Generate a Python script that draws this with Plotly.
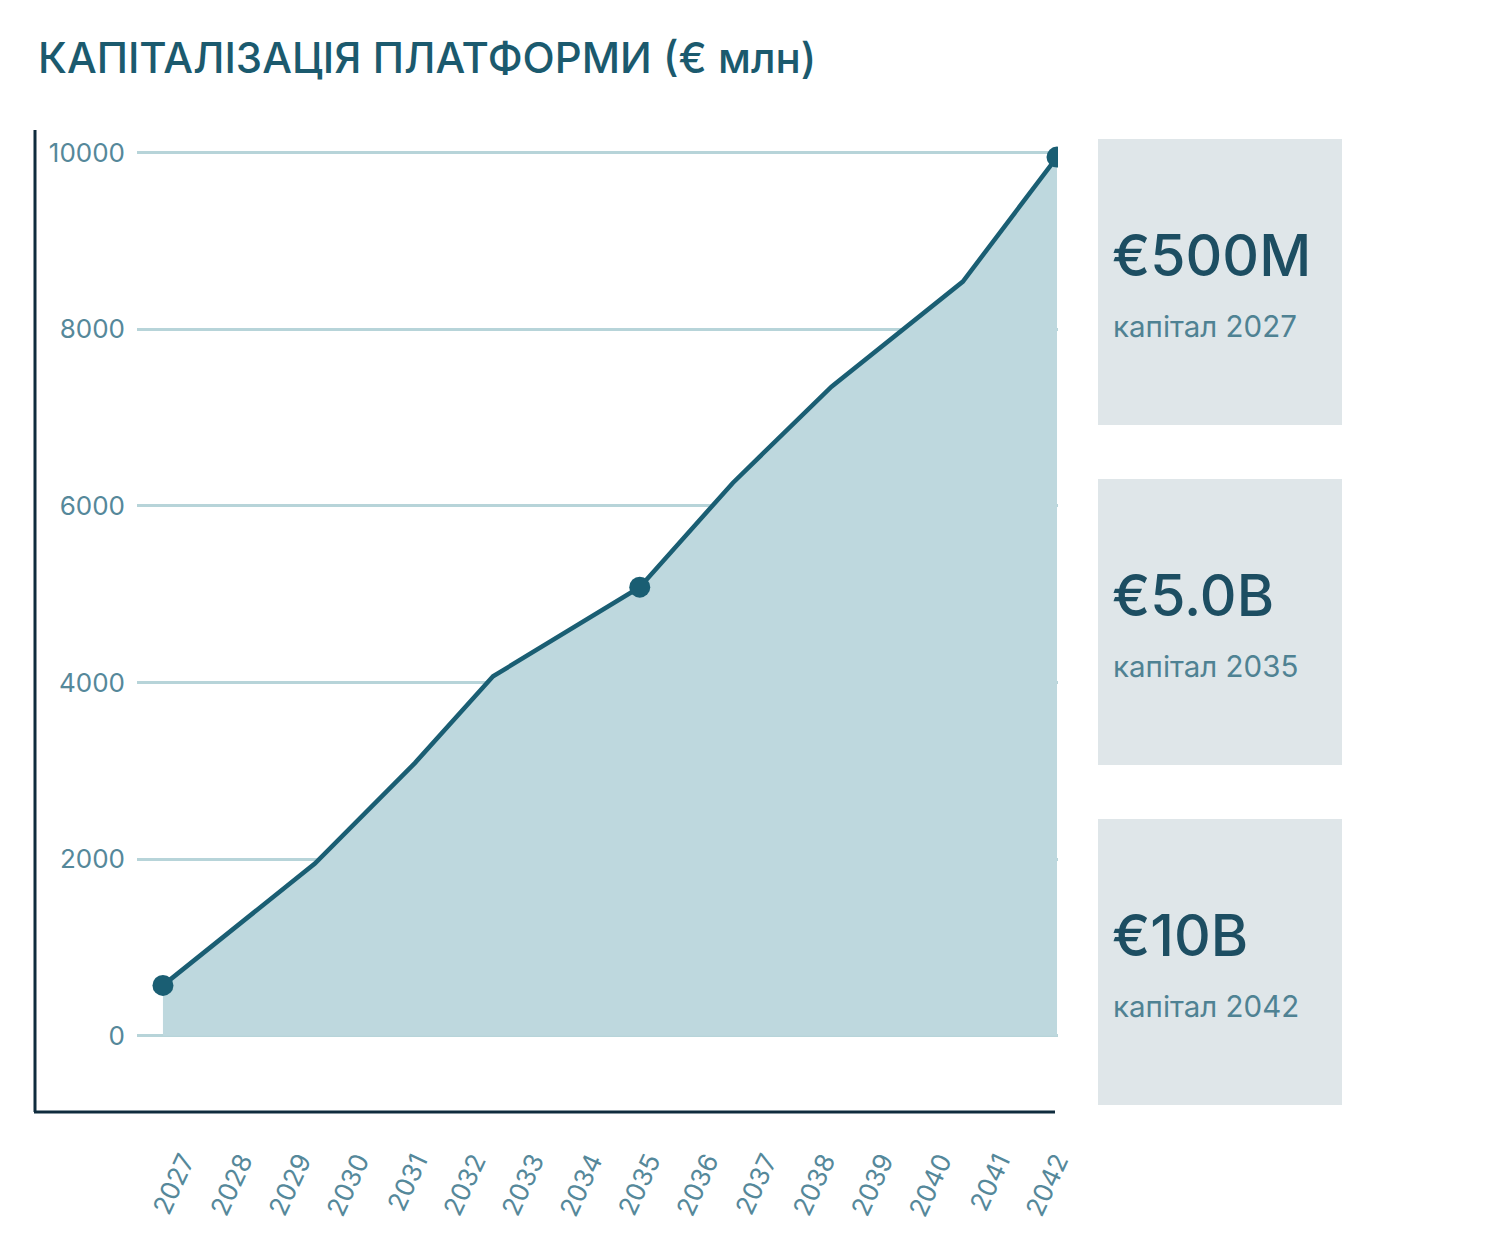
import plotly.graph_objects as go

# ---- data ----
dates = ["2027-01-01", "2029-07-20", "2031-03-26", "2032-07-16", "2035-01-01",
         "2036-07-24", "2038-03-21", "2040-06-03", "2042-01-01"]
capital_mln = [570, 1950, 3090, 4070, 5080, 6260, 7350, 8540, 9950]
highlight_dates = ["2027-01-01", "2035-01-01", "2042-01-01"]
year_labels = [str(y) for y in range(2027, 2043)]

card_values = ["€500M", "€5.0B", "€10B"]
card_labels = ["капітал 2027", "капітал 2035", "капітал 2042"]

title_text = "КАПІТАЛІЗАЦІЯ ПЛАТФОРМИ (€ млн)"
y_ticks = [0, 2000, 4000, 6000, 8000, 10000]

# ---- styles ----
W, H = 1500, 1235
LINE = "#1a5e73"
FILL = "#bed8de"
GRID = "#b7d4d9"
AXIS = "#0f2c3e"
TICK = "#55889a"
CARD = "#dfe6e9"
DARK = "#1d4e62"
FONT = "Inter"

def px_x(p):
    return p / W

def px_y(p):
    return 1 - p / H

hi_vals = [capital_mln[dates.index(d)] for d in highlight_dates]
label_dates = [f"{y}-01-01" for y in year_labels]

fig = go.Figure()
fig.add_trace(go.Scatter(
    x=dates, y=capital_mln, mode="lines",
    line=dict(color=LINE, width=4.5),
    fill="tozeroy", fillcolor=FILL,
    hoverinfo="skip", showlegend=False,
))
fig.add_trace(go.Scatter(
    x=highlight_dates, y=hi_vals, mode="markers",
    marker=dict(color=LINE, size=21),
    hoverinfo="skip", showlegend=False,
))
# invisible trace carrying the year tick labels on the label axis
fig.add_trace(go.Scatter(
    x=label_dates, y=[None] * len(label_dates), xaxis="x2", mode="markers",
    marker=dict(opacity=0), hoverinfo="skip", showlegend=False,
))

shapes = [
    dict(type="line", xref="paper", yref="paper",
         x0=px_x(35), x1=px_x(35), y0=px_y(130), y1=px_y(1112),
         line=dict(color=AXIS, width=3)),
    dict(type="line", xref="paper", yref="paper",
         x0=px_x(34), x1=px_x(1055), y0=px_y(1112), y1=px_y(1112),
         line=dict(color=AXIS, width=3)),
]
annotations = [
    dict(text=title_text, xref="paper", yref="paper",
         x=px_x(36), y=px_y(57), xanchor="left", yanchor="middle",
         showarrow=False,
         font=dict(family=FONT, size=42, color="#1b5a6e", weight=500)),
]
card_tops = [139, 479, 819]
for top, val, lab in zip(card_tops, card_values, card_labels):
    shapes.append(dict(type="rect", xref="paper", yref="paper", layer="below",
                       x0=px_x(1098), x1=px_x(1342), y0=px_y(top), y1=px_y(top + 286),
                       fillcolor=CARD, line=dict(width=0)))
    annotations.append(dict(text=val, xref="paper", yref="paper",
                            x=px_x(1110), y=px_y(top + 116), xanchor="left", yanchor="middle",
                            showarrow=False,
                            font=dict(family=FONT, size=57, color=DARK, weight=500)))
    annotations.append(dict(text=lab, xref="paper", yref="paper",
                            x=px_x(1111), y=px_y(top + 187), xanchor="left", yanchor="middle",
                            showarrow=False,
                            font=dict(family=FONT, size=29.5, color="#4f8293")))

dom = [px_x(137), px_x(1058)]
fig.update_layout(
    width=W, height=H,
    margin=dict(l=0, r=0, t=0, b=0),
    paper_bgcolor="white", plot_bgcolor="white",
    shapes=shapes, annotations=annotations,
    xaxis=dict(
        type="date", domain=dom,
        range=["2026-07-26", "2042-01-07"],
        showticklabels=False, showgrid=False, zeroline=False, showline=False,
        ticks="", automargin=False,
    ),
    xaxis2=dict(
        type="date", domain=dom, overlaying="x", anchor="y",
        range=["2026-03-16", "2042-01-06"],
        tickvals=label_dates, ticktext=year_labels,
        tickangle=-65, showgrid=False, zeroline=False, showline=False,
        ticks="", ticklabelstandoff=28,
        tickfont=dict(family=FONT, size=26, color=TICK),
        automargin=False,
    ),
    yaxis=dict(
        domain=[px_y(1112), px_y(130)],
        range=[-864, 10257],
        tickvals=y_ticks, ticktext=[str(v) for v in y_ticks],
        showgrid=True, gridcolor=GRID, gridwidth=2.5,
        zeroline=False, showline=False, ticks="",
        ticklabelstandoff=11,
        tickfont=dict(family=FONT, size=26, color=TICK),
        automargin=False,
    ),
)

fig.write_html("out.html")
